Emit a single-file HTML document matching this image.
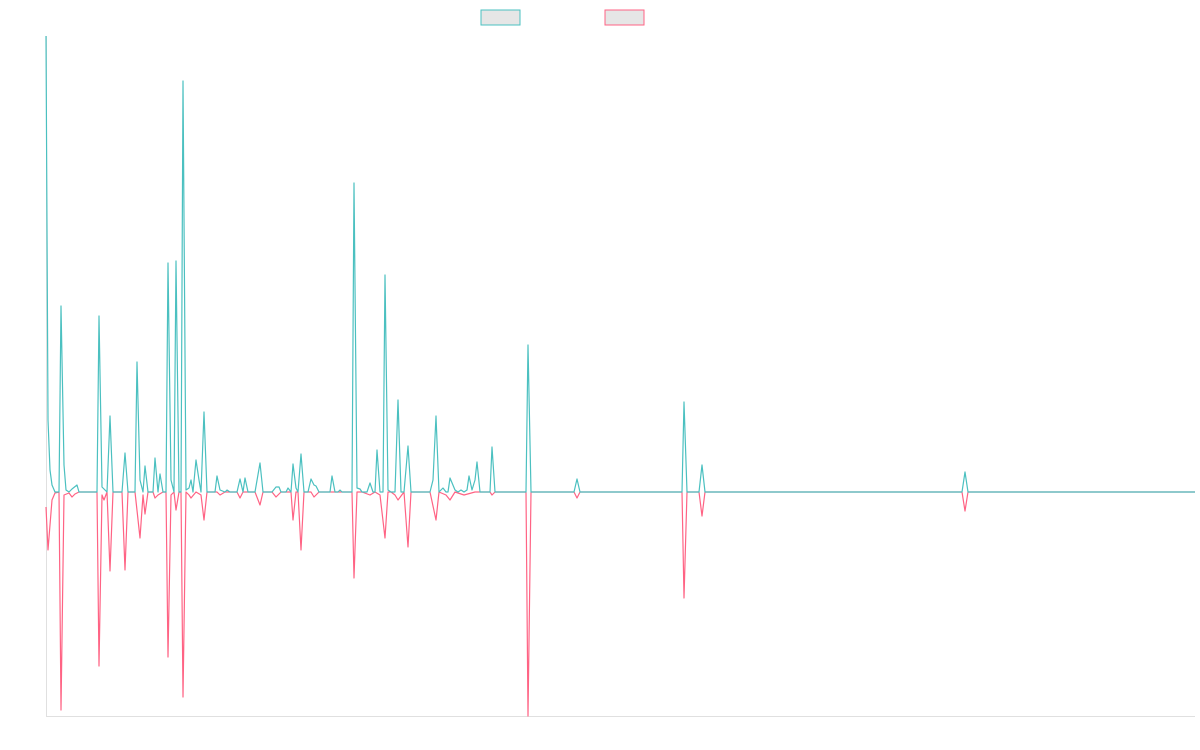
<!DOCTYPE html>
<html><head><meta charset="utf-8"><style>html,body{margin:0;padding:0;background:#fff}svg{display:block}</style></head><body>
<svg width="1200" height="750" viewBox="0 0 1200 750" xmlns="http://www.w3.org/2000/svg">
<rect x="481" y="10" width="39" height="15" fill="#e6e6e6" stroke="#4bc0c0" stroke-width="1"/>
<rect x="605" y="10" width="39" height="15" fill="#e6e6e6" stroke="#ff6384" stroke-width="1"/>
<line x1="46.5" y1="36" x2="46.5" y2="716" stroke="#e0e0e0" stroke-width="1"/>
<line x1="46" y1="716.5" x2="1195" y2="716.5" stroke="#e0e0e0" stroke-width="1"/>
<polyline fill="none" stroke="#ff6384" stroke-width="1.2" stroke-linejoin="round" points="46,507 48,550 52,500 55,493 59,492 61,710 64,495 69,493 72,497 75,494 79,492 97,492 99,666 102,495 104,500 107,492 110,571 113,492 122,492 125,570 128,492 135,492 140,538 143,495 145,514 148,492 153,492 155,498 158,495 163,492 166,492 168,657 171,495 174,492 176,510 179,492 181,492 183,697 186,492 189,495 191,498 196,492 201,495 204,520 207,492 217,492 220,495 225,492 237,492 240,498 243,492 255,492 260,505 263,492 272,492 276,497 281,492 291,492 293,520 296,492 298,492 301,550 304,492 311,492 314,497 319,492 352,492 354,578 357,492 362,492 370,495 375,492 380,495 385,538 388,492 391,492 395,495 398,500 404,492 408,547 411,492 430,492 436,520 439,492 446,495 450,500 455,492 464,495 475,492 490,492 492,495 495,492 526,492 528,716 531,492 574,492 577,498 580,492 682,492 684,598 687,492 699,492 702,516 705,492 962,492 965,511 968,492 1195,492"/>
<polyline fill="none" stroke="#4bc0c0" stroke-width="1.2" stroke-linejoin="round" points="46,36 48,420 50,470 52,485 55,492 59,492 61,306 64,465 66,490 69,492 72,489 77,485 79,492 97,492 99,316 102,487 105,490 107,492 110,416 113,492 122,492 125,453 128,492 135,492 137,362 140,480 143,492 145,466 148,492 153,492 155,458 158,492 160,474 163,492 166,492 168,263 171,480 174,492 176,261 179,492 181,492 183,81 186,490 189,488 191,480 193,492 196,460 199,480 201,492 204,412 207,492 215,492 217,476 220,490 225,492 227,490 230,492 237,492 240,479 243,492 245,478 248,492 255,492 260,463 263,492 272,492 276,487 279,487 281,492 286,492 288,488 291,492 293,464 296,488 298,492 301,454 304,492 308,492 311,479 314,485 316,486 319,492 330,492 332,476 335,492 338,492 340,490 342,492 352,492 354,183 357,488 360,489 362,492 367,492 370,483 373,492 375,492 377,450 380,492 383,492 385,275 388,490 391,492 395,492 398,400 401,492 404,492 408,446 411,492 430,492 433,480 436,416 439,492 443,488 446,492 448,492 450,478 455,490 458,492 461,490 464,492 467,490 469,476 472,490 475,480 477,462 480,492 490,492 492,447 495,492 526,492 528,345 531,492 574,492 577,479 580,492 682,492 684,402 687,492 699,492 702,465 705,492 962,492 965,472 968,492 1195,492"/>
</svg>
</body></html>
